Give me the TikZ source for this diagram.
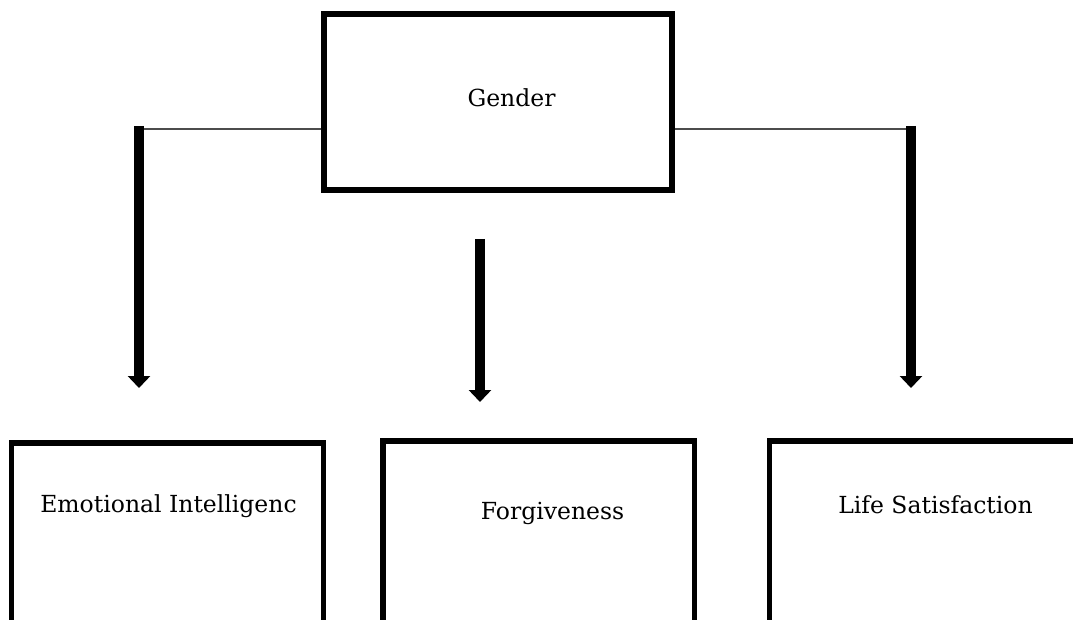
\documentclass[tikz,border=0pt]{standalone}
\usepackage{fontspec}
\setmainfont{DejaVu Serif}
\usetikzlibrary{arrows.meta}
\begin{document}
\begin{tikzpicture}[x=1pt,y=-1pt,
  box/.style={draw=black,line width=5.5pt,rectangle,inner sep=0pt},
  lbl/.style={font=\fontsize{23.5}{27}\selectfont,inner sep=0pt,anchor=base,text=black},
  thinline/.style={draw=black!70,line width=1.6pt},
  bigarrow/.style={draw=black,line width=10.5pt,-{Triangle[width=22pt,length=12pt]}}]
\useasboundingbox (0,0) rectangle (1073,620);
\clip (0,0) rectangle (1073,620);
% boxes
\node[box,minimum width=348pt,minimum height=176pt] (G) at (498,102) {};
\node[box,minimum width=311.8pt,minimum height=257pt] (E) at (167.6,571.5) {};
\node[box,minimum width=311.5pt,minimum height=259pt] (F) at (538.75,570.5) {};
\node[box,minimum width=320pt,minimum height=259pt] (L) at (929.5,570.5) {};
% labels
\node[lbl] (tG) at (511.5,106.7) {Gender};
\node[lbl] (tE) at (168.5,512) {Emotional Intelligenc};
\node[lbl] (tF) at (552.5,519) {Forgiveness};
\node[lbl] (tL) at (935.5,513) {Life Satisfaction};
% arrow coordinates
\coordinate (a1s) at (139,126);
\coordinate (a1e) at (139,388);
\coordinate (a2s) at (480,239);
\coordinate (a2e) at (480,402);
\coordinate (a3s) at (911,126);
\coordinate (a3e) at (911,388);
\coordinate (h1) at (139,129);
\coordinate (h3) at (911,129);
% connectors
\draw[thinline] (G.west |- h1) -- (h1);
\draw[thinline] (G.east |- h3) -- (h3);
\draw[bigarrow] (a1s) -- (a1e);
\draw[bigarrow] (a2s) -- (a2e);
\draw[bigarrow] (a3s) -- (a3e);
\end{tikzpicture}
\end{document}
